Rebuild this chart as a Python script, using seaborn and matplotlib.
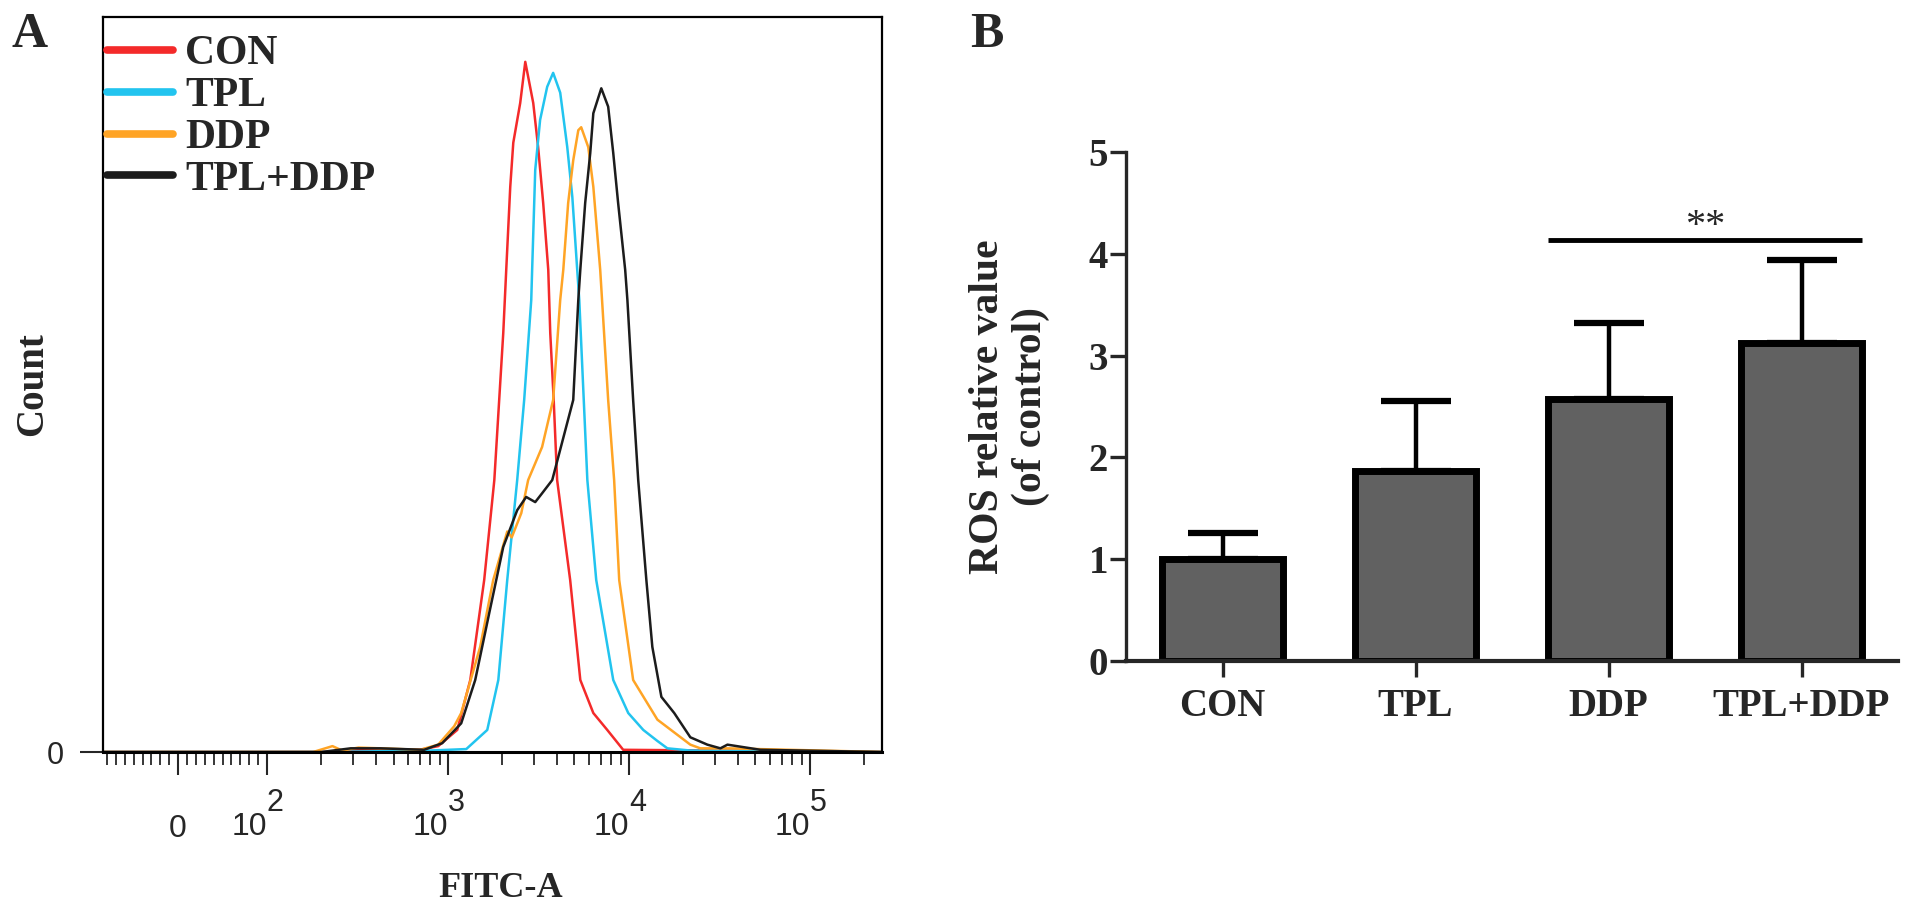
import numpy as np
import pandas as pd
import matplotlib
matplotlib.use("Agg")
import matplotlib.pyplot as plt
import seaborn as sns


# ── Data ─────────────────────────────────────────────────────────────────────
# Panel A: histogram outlines (FITC-A value, count)
CON_X = [-84, 200, 300, 700, 883, 1125, 1328, 1585, 1803, 2020, 2098, 2208,
         2295, 2506, 2673, 2958, 3148, 3357, 3581, 3673, 3837, 4009, 4732,
         5383, 6353, 7586, 9290, 30000, 250000]
CON_Y = [0, 0, 0.3, 0.3, 0.8, 3.0, 9.8, 23.4, 37.0, 57.0, 65.6, 76.9,
         82.9, 88.3, 93.9, 88.3, 82.3, 74.7, 65.6, 57.0, 47.9, 37.0, 23.4,
         9.8, 5.3, 3.0, 0.3, 0.2, 0]

TPL_X = [-84, 200, 800, 1262, 1648, 1897, 2125, 2412, 2636, 2884, 2917, 3034,
         3228, 3532, 3811, 4169, 4560, 4864, 5176, 5313, 5888, 6592, 8185,
         9908, 11995, 14355, 16293, 21827, 250000]
TPL_Y = [0, 0, 0.2, 0.4, 3.0, 9.8, 23.4, 37.0, 47.9, 61.5, 65.6, 79.2,
         86.0, 90.5, 92.4, 89.7, 82.3, 75.5, 65.6, 61.5, 37.0, 23.4, 9.8,
         5.3, 3.0, 1.5, 0.5, 0.2, 0]

DDP_X = [-84, 180, 230, 260, 320, 422, 702, 883, 1082, 1183, 1506, 1778,
         2125, 2250, 2541, 2773, 3311, 3811, 4169, 4335, 4613, 4920, 5248,
         5445, 5957, 6353, 6934, 7674, 8279, 8831, 10544, 14355, 21827,
         24774, 35000, 250000]
DDP_Y = [0, 0, 0.8, 0.2, 0.6, 0.5, 0.3, 1.0, 3.5, 5.3, 14.3, 23.4,
         30.0, 29.2, 32.5, 37.0, 41.5, 47.9, 61.5, 65.6, 74.7, 80.5, 84.6,
         85.0, 82.3, 76.9, 65.6, 47.9, 37.0, 23.4, 9.8, 4.4, 1.0,
         0.5, 0.5, 0]

COMBO_X = [-84, 200, 290, 422, 738, 929, 1183, 1414, 1690, 2020, 2412, 2704,
           3034, 3311, 3767, 4920, 5248, 5383, 5728, 6109, 6353, 7031, 7674,
           8185, 8710, 9528, 9800, 10544, 11246, 12474, 13459, 15101, 17783,
           21827, 27101, 31989, 35000, 53215, 250000]
COMBO_Y = [0, 0, 0.5, 0.5, 0.3, 1.2, 3.9, 9.8, 18.9, 27.9, 32.9, 34.7,
           34.0, 35.2, 37.0, 47.9, 61.5, 65.6, 74.7, 81.5, 86.9, 90.3, 87.8,
           81.5, 74.7, 65.6, 61.5, 47.9, 37.0, 23.4, 14.3, 7.5, 5.3,
           2.0, 1.0, 0.5, 1.0, 0.3, 0]

SAMPLES = ["CON", "TPL", "DDP", "TPL+DDP"]
COLORS  = ["#f42a2a", "#22c4ef", "#ffa425", "#1c1c1c"]
FITC_MAJOR = [0, 1e2, 1e3, 1e4, 1e5]

# Panel B: ROS relative value (mean and upper SD)
GROUPS   = ["CON", "TPL", "DDP", "TPL+DDP"]
ROS_MEAN = [1.00, 1.87, 2.57, 3.12]
ROS_SD   = [0.26, 0.68, 0.75, 0.82]
SIG_Y    = 4.14
SIG_TEXT = "**"


# ── Style ────────────────────────────────────────────────────────────────────
sns.set_style("white")
plt.rcParams["font.family"] = ["Liberation Serif", "DejaVu Serif"]
SERIF_B = {"family": "Liberation Serif", "weight": "bold"}
SANS    = {"family": "Liberation Sans", "weight": "normal"}

fig = plt.figure(figsize=(19.13, 9.16), dpi=100)
W, H = 1913, 916
axA = fig.add_axes([103 / W, 1 - 752 / H, 779 / W, 735 / H])
axB = fig.add_axes([1126 / W, 1 - 661 / H, 772 / W, 509 / H])


# ── Panel A: histogram overlay ───────────────────────────────────────────────
frames = []
for name, xs, ys in zip(SAMPLES, [CON_X, TPL_X, DDP_X, COMBO_X],
                        [CON_Y, TPL_Y, DDP_Y, COMBO_Y]):
    frames.append(pd.DataFrame({"fitc": xs, "count": ys, "sample": name}))
hist = pd.concat(frames, ignore_index=True)

sns.lineplot(data=hist, x="fitc", y="count", hue="sample", hue_order=SAMPLES,
             palette=dict(zip(SAMPLES, COLORS)), estimator=None,
             linewidth=1.8, ax=axA)
for line in axA.get_lines():
    line.set_solid_joinstyle("round")

axA.set_xscale("symlog", linthresh=100, linscale=0.442)
axA.set_xlim(-84.5, 2.5e5)
axA.set_ylim(0, 100)

minor = (list(range(-80, 0, 10)) + list(range(10, 100, 10))
         + [m * 10 ** k for k in (2, 3, 4) for m in range(2, 10)] + [2e5])
axA.set_xticks(FITC_MAJOR)
axA.set_xticks(minor, minor=True)
axA.tick_params(axis="x", which="major", length=16.5, width=1.5,
                direction="out", labelbottom=False, bottom=True)
axA.tick_params(axis="x", which="minor", length=9.5, width=1.3,
                direction="out", bottom=True)

axA.set_yticks([0])
axA.set_yticklabels(["0"], fontdict={**SANS, "size": 22})
axA.tick_params(axis="y", length=16.5, width=1.5, pad=12, left=True)

xtrans = axA.get_xaxis_transform()
for v in FITC_MAJOR:
    if v == 0:
        axA.text(v, -0.115, "0", transform=xtrans, ha="center",
                 va="baseline", fontdict={**SANS, "size": 23})
    else:
        axA.text(v, -0.113, "10", transform=xtrans, ha="right",
                 va="baseline", fontdict={**SANS, "size": 23})
        axA.text(v, -0.080, str(int(np.log10(v))), transform=xtrans,
                 ha="left", va="baseline", fontdict={**SANS, "size": 22})

for side in ["top", "right", "left", "bottom"]:
    axA.spines[side].set_visible(True)
    axA.spines[side].set_color("black")
    axA.spines[side].set_linewidth(1.6)
axA.spines["bottom"].set_linewidth(2.2)

axA.set_xlabel("FITC-A", fontdict={**SERIF_B, "size": 26}, va="top")
axA.xaxis.set_label_coords(0.511, -0.163)
axA.set_ylabel("Count", fontdict={**SERIF_B, "size": 28})
axA.yaxis.set_label_coords(-0.066, 0.5)

old = axA.get_legend()
handles, labels = old.legend_handles, [t.get_text() for t in old.texts]
leg = axA.legend(handles, labels, loc="upper left",
                 bbox_to_anchor=(0, 0.981), frameon=False,
                 prop={**SERIF_B, "size": 30},
                 handlelength=1.58, handletextpad=0.29, labelspacing=0.09,
                 borderpad=0.1, borderaxespad=0.0)
for line in leg.get_lines():
    line.set_linewidth(5.5)


# ── Panel B: bar chart ───────────────────────────────────────────────────────
sns.barplot(x=GROUPS, y=ROS_MEAN, color="#616161", saturation=1,
            edgecolor="black", linewidth=5, width=0.63, errorbar=None, ax=axB)
axB.errorbar(range(len(GROUPS)), ROS_MEAN,
             yerr=[np.zeros(len(ROS_SD)), ROS_SD], fmt="none",
             ecolor="black", elinewidth=3.2, capsize=25, capthick=4.5,
             zorder=3)

axB.set_xlim(-0.5, 3.5)
axB.set_ylim(0, 5)
axB.set_yticks(range(0, 6))
sns.despine(ax=axB)
axB.spines["left"].set_linewidth(2.4)
axB.spines["bottom"].set_linewidth(3.0)
axB.tick_params(axis="y", length=11.5, width=2.4, pad=1.5, left=True)
axB.tick_params(axis="x", length=11.5, width=2.4, pad=8, bottom=True)
for lab in axB.get_xticklabels() + axB.get_yticklabels():
    lab.set_fontfamily("Liberation Serif")
    lab.set_fontweight("bold")
    lab.set_fontsize(28)

bar_w = 0.63
axB.plot([2 - bar_w / 2, 3 + bar_w / 2], [SIG_Y, SIG_Y], color="black",
         linewidth=3.5, solid_capstyle="butt")
axB.text(2.5, SIG_Y + 0.03, SIG_TEXT, ha="center", va="baseline",
         fontdict={"family": "Liberation Serif", "weight": "normal",
                   "size": 29})

axB.set_ylabel("ROS relative value\n(of control)",
               fontdict={**SERIF_B, "size": 30}, linespacing=1.15)
axB.yaxis.set_label_coords(-0.098, 0.5)

# Panel letters
fig.text(12 / W, 1 - 47 / H, "A", fontdict={**SERIF_B, "size": 36},
         va="baseline", ha="left")
fig.text(970 / W, 1 - 47 / H, "B", fontdict={**SERIF_B, "size": 36},
         va="baseline", ha="left")

fig.savefig("out.png", dpi=100, facecolor="white")
